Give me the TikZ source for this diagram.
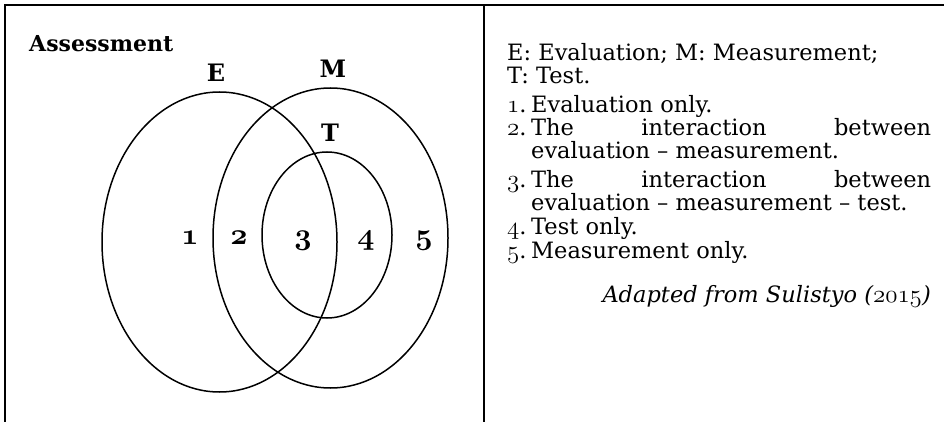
\RequirePackage{fix-cm}
\documentclass[tikz,border=0pt]{standalone}
\usepackage{fontspec}
\setmainfont{DejaVu Serif}

% old-style figures from Computer Modern math italic
\newcommand\osfnum[1]{{\fontsize{25}{23}\usefont{OML}{cmm}{m}{it}#1}}
\newcommand\osfbold[1]{{\usefont{OML}{cmm}{b}{it}#1}}
% numbered item with hanging indent
\newcommand\keyitem[2]{\hangindent=24pt\hangafter=1\noindent\makebox[24pt][l]{\osfnum{#1}.}#2\par}

\begin{document}
\begin{tikzpicture}[x=1pt, y=-1pt,
    setlabel/.style={font=\fontsize{24}{24}\selectfont\bfseries, inner sep=0pt, anchor=base},
    region/.style={font=\fontsize{30}{30}\selectfont, inner sep=0pt, anchor=base},
    legend/.style={font=\fontsize{22.5}{23}\selectfont, inner sep=0pt, anchor=base west},
    item/.style={legend, text width=424pt, align=justify},
    venn/.style={line width=1.5pt}
  ]
  \useasboundingbox (0,0) rectangle (944,422);

  % Frame
  \draw[line width=1.3pt] (5,422) -- (5,5) -- (484,5);
  \draw[line width=2.2pt] (484,422) -- (484,5) -- (944,5);

  % Title
  \node[legend, font=\fontsize{22}{23}\selectfont\bfseries] (title) at (29,52) {Assessment};

  % Sets
  \draw[venn] (219.5,242) ellipse [x radius=117.5, y radius=150];
  \draw[venn] (330.5,238) ellipse [x radius=117.5, y radius=150];
  \draw[venn] (327,235) ellipse [x radius=65, y radius=83];

  % Set labels
  \node[setlabel] (setE) at (216,82) {E};
  \node[setlabel] (setM) at (333,78) {M};
  \node[setlabel] (setT) at (330,142) {T};

  % Regions
  \node[region] (r1) at (190,244) {\osfbold{1}};
  \node[region] (r2) at (239,244) {\osfbold{2}};
  \node[region] (r3) at (303,244) {\osfbold{3}};
  \node[region] (r4) at (366,244) {\osfbold{4}};
  \node[region] (r5) at (424,244) {\osfbold{5}};

  % Key
  \node[legend] (keyA) at (507,61) {E: Evaluation; M: Measurement;};
  \node[legend] (keyB) at (507,84) {T: Test.};

  % List
  \node[item] (i1) at (507,113) {\keyitem{1}{Evaluation only.}};
  \node[item] (i2) at (507,136)
    {\keyitem{2}{The interaction between\linebreak evaluation – measurement.}};
  \node[item] (i3) at (507,187)
    {\keyitem{3}{The interaction between\linebreak evaluation – measurement – test.}};
  \node[item] (i4) at (507,234) {\keyitem{4}{Test only.}};
  \node[item] (i5) at (507,258) {\keyitem{5}{Measurement only.}};

  % Source
  \node[legend, anchor=base east] (src) at (931,302)
    {\itshape Adapted from Sulistyo (\osfnum{2015})};
\end{tikzpicture}
\end{document}
